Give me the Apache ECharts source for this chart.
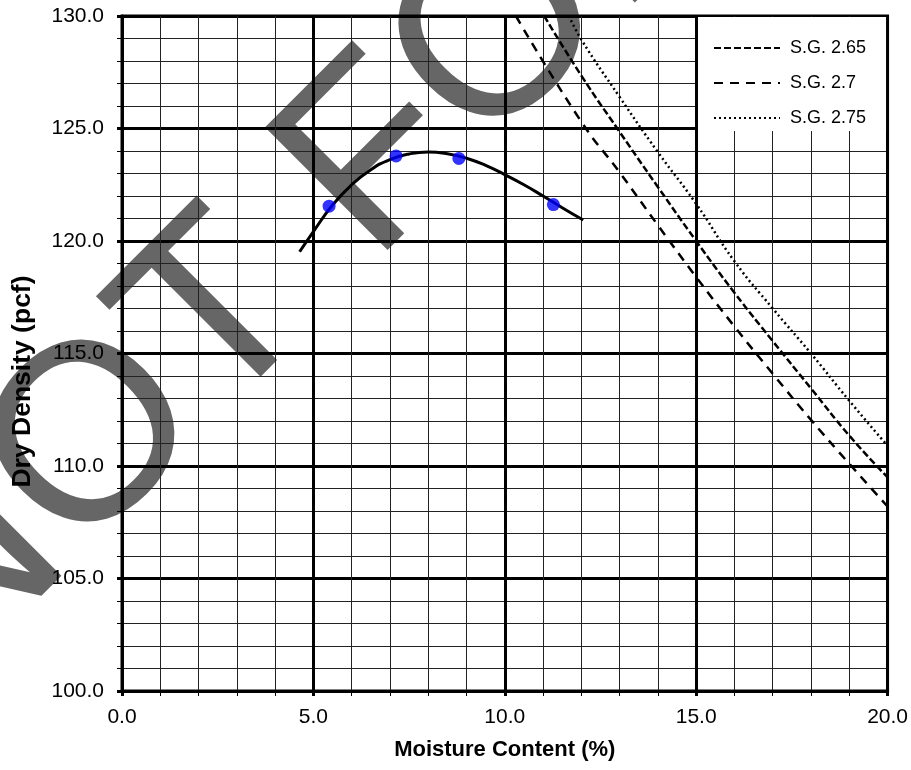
<!DOCTYPE html>
<html>
<head>
<meta charset="utf-8">
<script src="https://cdn.jsdelivr.net/npm/echarts@6/dist/echarts.min.js"></script>
<style>
  html, body { margin: 0; padding: 0; background: #fff; }
  #chart { width: 911px; height: 770px; }
</style>
</head>
<body>
<div id="chart"></div>
<script>
// compaction test points
const pointMoisture = [5.41, 7.16, 8.80, 11.27];
const pointDensity = [121.55, 123.78, 123.67, 121.62];

// fitted compaction curve
const curveMoisture = [4.64, 5.0, 5.5, 6.0, 6.5, 7.0, 7.5, 8.0, 8.5, 9.0, 9.5, 10.0, 10.5, 11.0, 11.5, 12.05];
const curveDensity = [119.52, 120.42, 121.6, 122.5, 123.17, 123.62, 123.87, 123.96, 123.88, 123.68, 123.36, 122.95, 122.5, 122.0, 121.48, 120.93];

// zero air voids lines (labels as they appear in the legend)
const zavMoisture265 = [11.03, 12, 13, 14, 15, 16, 17, 18, 19, 20];
const zavDensity265 = [130, 127.35, 124.85, 122.4, 120.0, 117.7, 115.55, 113.45, 111.35, 109.5];
const zavMoisture27 = [10.29, 12, 13, 14, 15, 16, 17, 18, 19, 20];
const zavDensity27 = [130, 125.3, 123.05, 120.7, 118.4, 116.2, 114.1, 112.05, 110.1, 108.2];
const zavMoisture275 = [11.68, 12, 13, 14, 15, 16, 17, 18, 19, 20];
const zavDensity275 = [130, 128.95, 126.4, 123.95, 121.65, 119.1, 117.0, 115.0, 112.9, 110.9];

const legendNames = ['S.G. 2.65', 'S.G. 2.7', 'S.G. 2.75'];
const xTitle = 'Moisture Content (%)';
const yTitle = 'Dry Density (pcf)';
const watermark = 'NOT FOR';

const font = '"Liberation Sans", Arial, sans-serif';
const zip = (xs, ys) => xs.map((x, i) => [x, ys[i]]);

const chart = echarts.init(document.getElementById('chart'));

const axisCommon = {
  type: 'value',
  interval: 5,
  axisLine: { show: true, onZero: false, lineStyle: { color: '#000', width: 3 } },
  axisTick: { show: true, length: 5, lineStyle: { color: '#000', width: 3 } },
  minorTick: { show: true, splitNumber: 5, length: 5, lineStyle: { color: '#000', width: 1 } },
  splitLine: { show: true, lineStyle: { color: '#000', width: 3 } },
  minorSplitLine: { show: true, lineStyle: { color: '#222', width: 1 } },
  axisLabel: { color: '#000', fontSize: 21, fontFamily: font, formatter: (v) => v.toFixed(1) },
};

function zavSeries(name, xs, ys, dash) {
  return {
    name, type: 'line', symbol: 'none', smooth: true,
    data: zip(xs, ys),
    itemStyle: { color: '#000' },
    lineStyle: { color: '#000', width: 2.5, type: dash },
    z: 3,
  };
}

chart.setOption({
  animation: false,
  backgroundColor: '#fff',
  grid: {
    left: 122, right: 22, top: 16, bottom: 79,
    show: true, borderColor: '#000', borderWidth: 3,
  },
  legend: {
    data: legendNames,
    orient: 'vertical',
    left: 698, top: 17,
    padding: [22, 20, 4, 15],
    itemGap: 17,
    itemWidth: 66,
    itemHeight: 14,
    backgroundColor: '#fff',
    itemStyle: { opacity: 0 },
    textStyle: { color: '#000', fontSize: 18, fontFamily: font, padding: [0, 0, 0, 5] },
  },
  graphic: [{
    type: 'text',
    x: 299, y: 240,
    rotation: Math.PI / 4,
    z: -10,
    silent: true,
    style: {
      text: watermark,
      fontSize: 252,
      fontFamily: font,
      fill: '#666',
      align: 'center',
      verticalAlign: 'middle',
    },
  }],
  xAxis: {
    ...axisCommon,
    min: 0, max: 20,
    axisLabel: { ...axisCommon.axisLabel, margin: 16 },
    name: xTitle,
    nameLocation: 'middle',
    nameGap: 48,
    nameTextStyle: { color: '#000', fontSize: 22, fontWeight: 'bold', fontFamily: font },
  },
  yAxis: {
    ...axisCommon,
    min: 100, max: 130,
    axisLabel: { ...axisCommon.axisLabel, margin: 18 },
    name: yTitle,
    nameLocation: 'middle',
    nameGap: 86,
    nameTextStyle: { color: '#000', fontSize: 26.5, fontWeight: 'bold', fontFamily: font, padding: [0, 56, 0, 0] },
  },
  series: [
    zavSeries('S.G. 2.65', zavMoisture265, zavDensity265, [7, 3]),
    zavSeries('S.G. 2.7', zavMoisture27, zavDensity27, [9, 7]),
    zavSeries('S.G. 2.75', zavMoisture275, zavDensity275, [2, 3]),
    {
      name: 'Curve', type: 'line', symbol: 'none', smooth: true,
      data: zip(curveMoisture, curveDensity),
      lineStyle: { color: '#000', width: 3 },
      z: 4,
    },
    {
      name: 'Tests', type: 'scatter', symbol: 'circle', symbolSize: 13,
      data: zip(pointMoisture, pointDensity),
      itemStyle: { color: '#0000ff' },
      z: 5,
    },
  ],
});
</script>
</body>
</html>
